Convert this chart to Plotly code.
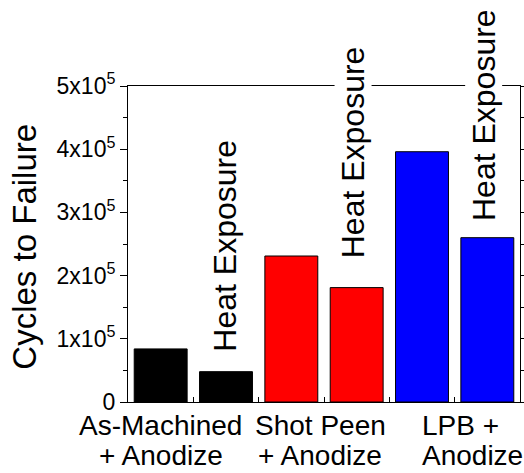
import plotly.graph_objects as go

categories = ["As-Machined + Anodize", "As-Machined + Anodize + Heat Exposure",
              "Shot Peen + Anodize", "Shot Peen + Anodize + Heat Exposure",
              "LPB + Anodize", "LPB + Anodize + Heat Exposure"]
cycles = [84000, 48000, 231000, 181000, 396000, 260000]
bar_colors = ["#000000", "#000000", "#ff0000", "#ff0000", "#0000ff", "#0000ff"]
heat_label = "Heat Exposure"
heat_idx = [1, 3, 5]
heat_shift = [19, 28, 16]
heat_xshift = [-1, -4, -4]
tick_vals = [0, 100000, 200000, 300000, 400000, 500000]
tick_text = ["0", "1x10<sup>5</sup>", "2x10<sup>5</sup>", "3x10<sup>5</sup>",
             "4x10<sup>5</sup>", "5x10<sup>5</sup>"]
group_line1 = ["As-Machined", "Shot Peen", "LPB +"]
group_line2 = ["+ Anodize", "+ Anodize", "Anodize"]
group_x = [0.0, 2.44, 3.98]
group_anchor = ["center", "center", "left"]
ytitle = "Cycles to Failure"

FONT = "Liberation Sans, Arial, sans-serif"

fig = go.Figure()
fig.add_trace(go.Bar(
    x=list(range(len(categories))), y=cycles,
    hovertext=categories,
    marker=dict(color=bar_colors, line=dict(color="#000000", width=1)),
))

ann = []
for k, i in enumerate(heat_idx):
    ann.append(dict(x=i, y=cycles[i], xref="x", yref="y", text=heat_label,
                    textangle=-90, showarrow=False, xanchor="center", yanchor="bottom",
                    yshift=heat_shift[k], xshift=heat_xshift[k],
                    bgcolor="white", borderpad=0,
                    font=dict(family=FONT, size=32, color="black")))
for gx, l1, l2, anc in zip(group_x, group_line1, group_line2, group_anchor):
    ann.append(dict(x=gx, y=-0.022, xref="x", yref="paper", text=l1, showarrow=False,
                    xanchor=anc, yanchor="top", borderpad=0,
                    font=dict(family=FONT, size=28, color="black")))
    ann.append(dict(x=gx, y=-0.117, xref="x", yref="paper", text=l2, showarrow=False,
                    xanchor=anc, yanchor="top", borderpad=0,
                    font=dict(family=FONT, size=28, color="black")))
ann.append(dict(x=-0.265, y=0.492, xref="paper", yref="paper", text=ytitle,
                textangle=-90, showarrow=False, xanchor="center", yanchor="middle",
                font=dict(family=FONT, size=33, color="black")))

fig.update_layout(
    width=524, height=473,
    margin=dict(l=128, r=4, t=86, b=71, autoexpand=False),
    paper_bgcolor="white", plot_bgcolor="white",
    bargap=0.19, showlegend=False,
    annotations=ann,
    font=dict(family=FONT, color="black"),
)
fig.update_xaxes(
    range=[-0.5, 5.5], showticklabels=False, showgrid=False, zeroline=False,
    showline=True, linecolor="black", linewidth=1, mirror=True, automargin=False,
    tickmode="linear", tick0=-0.5, dtick=1, ticks="inside", ticklen=5,
    tickcolor="black",
)
fig.update_yaxes(
    range=[0, 500000], tickvals=tick_vals, ticktext=tick_text,
    showgrid=False, zeroline=False, automargin=False,
    showline=True, linecolor="black", linewidth=1, mirror="ticks",
    ticks="outside", ticklen=7, tickcolor="black",
    tickfont=dict(family=FONT, size=23, color="black"),
    minor=dict(dtick=50000, ticks="outside", ticklen=4, tickcolor="black"),
)

fig.write_html("out.html")
